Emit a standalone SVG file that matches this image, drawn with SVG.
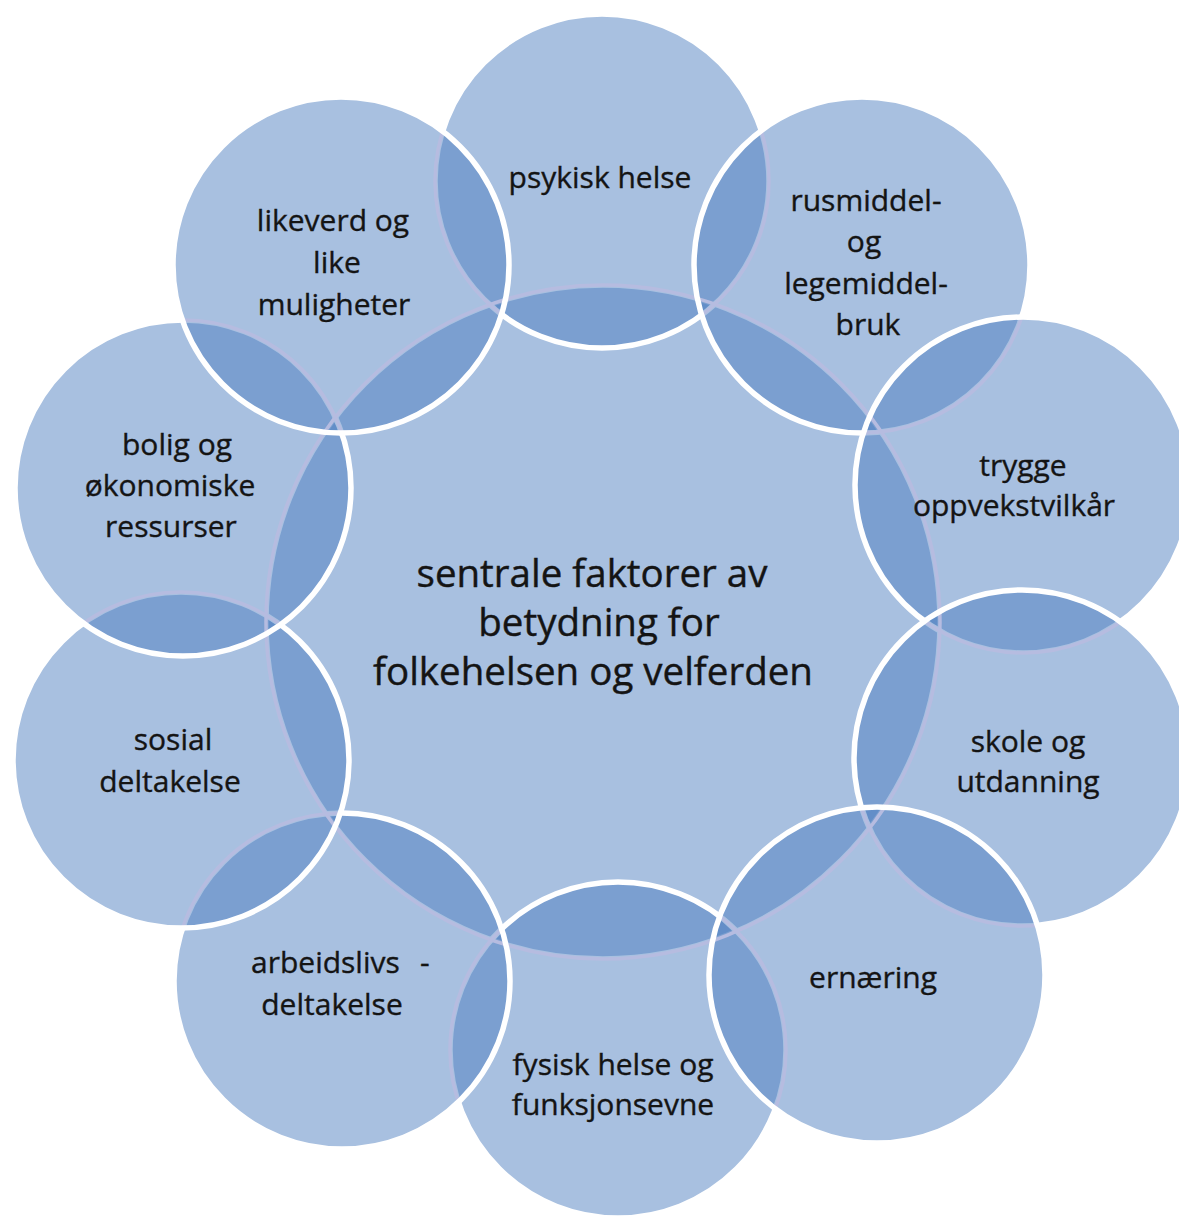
<svg xmlns="http://www.w3.org/2000/svg" xmlns:xlink="http://www.w3.org/1999/xlink" width="1179" height="1219" viewBox="0 0 1179 1219">
<style>
.disc{fill:rgb(75,125,191);fill-opacity:.483;stroke:none}
.edge{fill:none;stroke:#b6bce0;stroke-width:3.5}
.ring{fill:none;stroke:#ffffff;stroke-width:5.5}
.lbl{font-family:"Open Sans","Noto Sans","DejaVu Sans",sans-serif;font-size:30px;fill:#141414;stroke:#141414;stroke-width:0.35;text-anchor:middle}
.big{font-family:"Open Sans","Noto Sans","DejaVu Sans",sans-serif;font-size:38.5px;fill:#141414;stroke:#141414;stroke-width:0.4;text-anchor:middle}
</style>
<defs>
<circle id="cC" cx="603" cy="622" r="337"/>
<circle id="cP" cx="602" cy="181" r="167"/>
<circle id="cR" cx="862" cy="265" r="168"/>
<circle id="cT" cx="1023" cy="485" r="168"/>
<circle id="cS" cx="1022" cy="758" r="168"/>
<circle id="cF" cx="618" cy="1050" r="168"/>
<circle id="cE" cx="877" cy="975" r="168"/>
<circle id="cA" cx="342" cy="981" r="168"/>
<circle id="cSo" cx="181" cy="760" r="168"/>
<circle id="cB" cx="183" cy="488" r="168"/>
<circle id="cL" cx="341" cy="265" r="168"/>
<clipPath id="kP"><use href="#cP"/></clipPath>
<clipPath id="kR"><use href="#cR"/></clipPath>
<clipPath id="kT"><use href="#cT"/></clipPath>
<clipPath id="kS"><use href="#cS"/></clipPath>
<clipPath id="kF"><use href="#cF"/></clipPath>
<clipPath id="kE"><use href="#cE"/></clipPath>
<clipPath id="kA"><use href="#cA"/></clipPath>
<clipPath id="kSo"><use href="#cSo"/></clipPath>
<clipPath id="kB"><use href="#cB"/></clipPath>
<clipPath id="kL"><use href="#cL"/></clipPath>
</defs>
<rect width="1179" height="1219" fill="#ffffff"/>

<g id="node-center">
<use href="#cC" class="disc"/>
<use href="#cC" class="ring"/>
<text class="big" x="592" y="587">sentrale faktorer av</text>
<text class="big" x="599" y="636">betydning for</text>
<text class="big" x="593" y="685">folkehelsen og velferden</text>
</g>

<g id="node-psykisk-helse">
<use href="#cP" class="disc"/>
<use href="#cC" class="edge" clip-path="url(#kP)"/>
<use href="#cP" class="ring"/>
<text class="lbl" x="600" y="188">psykisk helse</text>
</g>

<g id="node-rusmiddel">
<use href="#cR" class="disc"/>
<use href="#cC" class="edge" clip-path="url(#kR)"/>
<use href="#cP" class="edge" clip-path="url(#kR)"/>
<use href="#cR" class="ring"/>
<text class="lbl" x="866" y="211">rusmiddel-</text>
<text class="lbl" x="864" y="252">og</text>
<text class="lbl" x="866" y="294">legemiddel-</text>
<text class="lbl" x="868" y="335">bruk</text>
</g>

<g id="node-trygge">
<use href="#cT" class="disc"/>
<use href="#cC" class="edge" clip-path="url(#kT)"/>
<use href="#cR" class="edge" clip-path="url(#kT)"/>
<use href="#cT" class="ring"/>
<text class="lbl" x="1023" y="476">trygge</text>
<text class="lbl" x="1014" y="516">oppvekstvilkår</text>
</g>

<g id="node-skole">
<use href="#cS" class="disc"/>
<use href="#cC" class="edge" clip-path="url(#kS)"/>
<use href="#cT" class="edge" clip-path="url(#kS)"/>
<use href="#cS" class="ring"/>
<text class="lbl" x="1028" y="752">skole og</text>
<text class="lbl" x="1028" y="792">utdanning</text>
</g>

<g id="node-fysisk-helse">
<use href="#cF" class="disc"/>
<use href="#cC" class="edge" clip-path="url(#kF)"/>
<use href="#cF" class="ring"/>
<text class="lbl" x="613" y="1075">fysisk helse og</text>
<text class="lbl" x="613" y="1115">funksjonsevne</text>
</g>

<g id="node-ernaering">
<use href="#cE" class="disc"/>
<use href="#cC" class="edge" clip-path="url(#kE)"/>
<use href="#cS" class="edge" clip-path="url(#kE)"/>
<use href="#cF" class="edge" clip-path="url(#kE)"/>
<use href="#cE" class="ring"/>
<text class="lbl" x="873" y="988">ernæring</text>
</g>

<g id="node-arbeidslivsdeltakelse">
<use href="#cA" class="disc"/>
<use href="#cC" class="edge" clip-path="url(#kA)"/>
<use href="#cF" class="edge" clip-path="url(#kA)"/>
<use href="#cA" class="ring"/>
<text class="lbl" x="251" y="973" style="text-anchor:start">arbeidslivs<tspan x="420">-</tspan></text>
<text class="lbl" x="332" y="1015">deltakelse</text>
</g>

<g id="node-sosial-deltakelse">
<use href="#cSo" class="disc"/>
<use href="#cC" class="edge" clip-path="url(#kSo)"/>
<use href="#cA" class="edge" clip-path="url(#kSo)"/>
<use href="#cSo" class="ring"/>
<text class="lbl" x="173" y="750">sosial</text>
<text class="lbl" x="170" y="792">deltakelse</text>
</g>

<g id="node-bolig">
<use href="#cB" class="disc"/>
<use href="#cC" class="edge" clip-path="url(#kB)"/>
<use href="#cSo" class="edge" clip-path="url(#kB)"/>
<use href="#cB" class="ring"/>
<text class="lbl" x="177" y="455">bolig og</text>
<text class="lbl" x="170" y="496">økonomiske</text>
<text class="lbl" x="171" y="537">ressurser</text>
</g>

<g id="node-likeverd">
<use href="#cL" class="disc"/>
<use href="#cC" class="edge" clip-path="url(#kL)"/>
<use href="#cB" class="edge" clip-path="url(#kL)"/>
<use href="#cP" class="edge" clip-path="url(#kL)"/>
<use href="#cL" class="ring"/>
<text class="lbl" x="333" y="231">likeverd og</text>
<text class="lbl" x="337" y="273">like</text>
<text class="lbl" x="334" y="315">muligheter</text>
</g>

<g id="connectors"></g>
</svg>
